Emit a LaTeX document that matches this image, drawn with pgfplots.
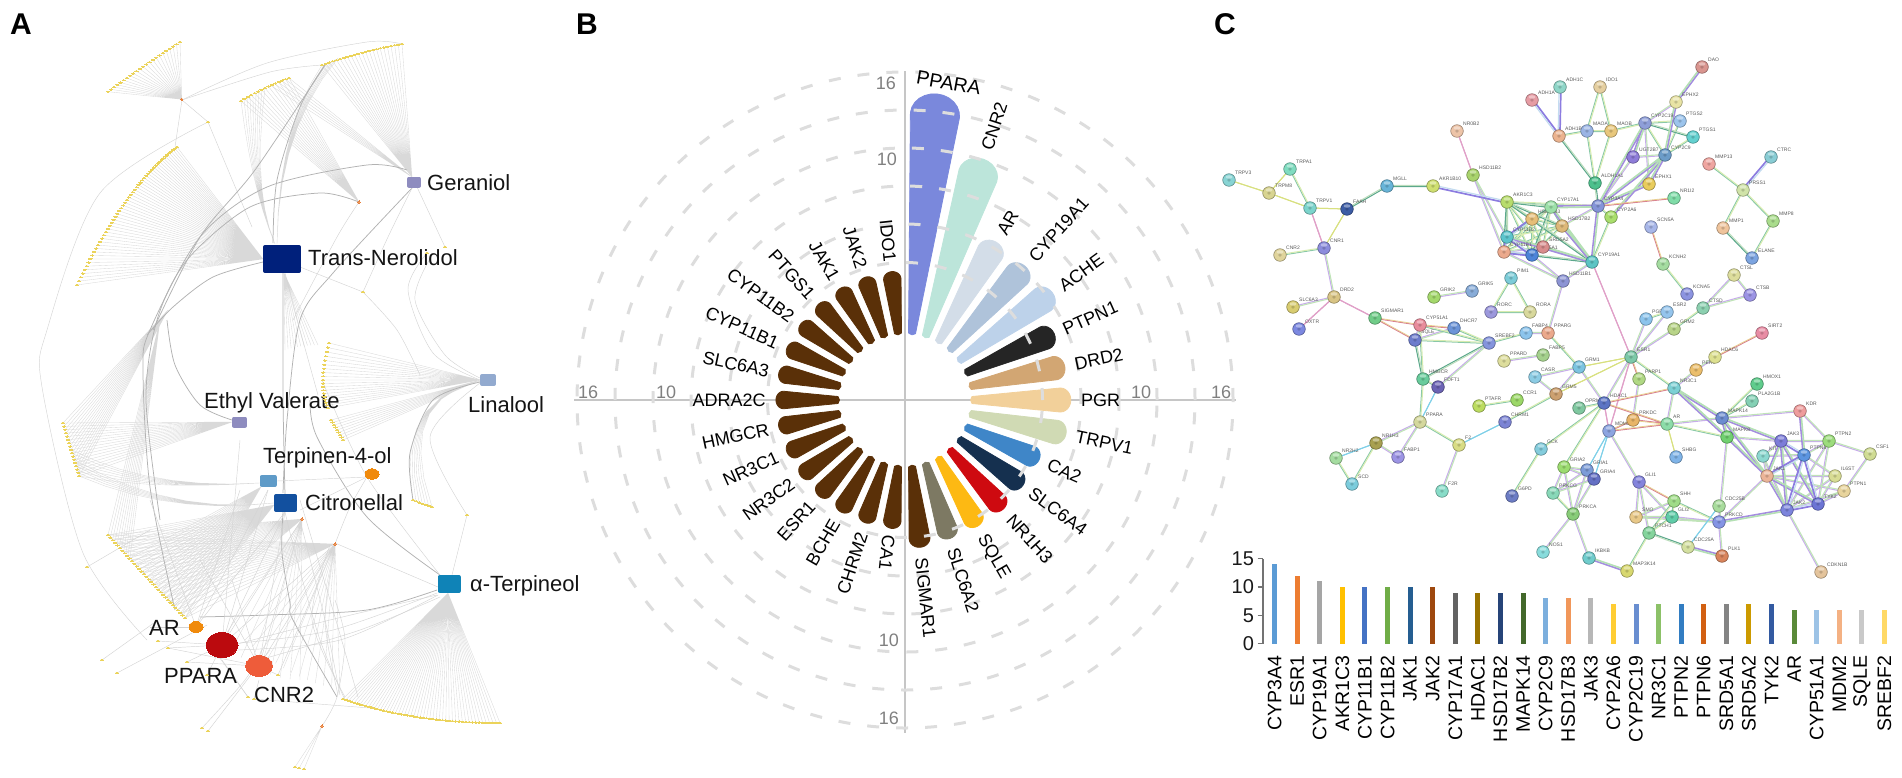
\documentclass[border=0pt]{standalone}
\usepackage{fontspec}
\setmainfont{Liberation Sans}
\usepackage{pgfplots}
\pgfplotsset{compat=1.18}
\newif\ifrecleaf \recleaftrue
\makeatletter
% ---------- panel C network: node list (name, x, y, colour)
\def\NodeList{%
\nd{DAO}{1702}{67}{D9958F}\nd{EPHX2}{1676}{102}{E8E3A4}\nd{ADH1C}{1560}{87}{8FD6C8}\nd{IDO1}{1600}{87}{E5CFA0}%
\nd{ADH1A}{1532}{100}{E69CA4}\nd{CYP2C19}{1645}{123}{8E9ED8}\nd{PTGS2}{1680}{121}{9CC4EC}\nd{PTGS1}{1693}{137}{63D0CF}%
\nd{MAOA}{1587}{131}{9AB4E4}\nd{MAOB}{1611}{131}{E8C77C}\nd{ADH1B}{1559}{136}{EBB38F}\nd{NR0B2}{1457}{131}{EDC4A8}%
\nd{UGT2B7}{1633}{157}{8E7CD8}\nd{CYP2C9}{1665}{155}{6C9CC8}\nd{CTRC}{1771}{157}{88CCD4}\nd{MMP13}{1709}{164}{EFA5A0}%
\nd{HSD11B2}{1473}{175}{A9D36C}\nd{ALDH1A1}{1595}{183}{4CC08C}\nd{EPHX1}{1649}{184}{E9CC5C}\nd{PRSS1}{1743}{190}{D0E3A8}%
\nd{AKR1B10}{1433}{186}{CFDF70}\nd{NR1I2}{1674}{198}{80DCA8}\nd{AKR1C3}{1507}{202}{B7DC6C}\nd{CYP17A1}{1551}{207}{9CE0A8}%
\nd{CYP3A4}{1598}{206}{8494D8}\nd{CYP2A6}{1611}{217}{A9DE6C}\nd{HSD17B3}{1532}{219}{E6BE78}\nd{HSD17B2}{1562}{226}{DDB878}%
\nd{SCN5A}{1651}{227}{A7B6E8}\nd{MMP8}{1773}{221}{A9DC8C}\nd{MMP1}{1723}{228}{EFC49C}\nd{CYP11B2}{1507}{237}{5CC4CC}%
\nd{CYP11B1}{1504}{252}{EBA98C}\nd{SRD5A2}{1543}{247}{D88C8C}\nd{SRD5A1}{1532}{255}{4C84D8}\nd{CYP19A1}{1592}{262}{5CC4C4}%
\nd{ELANE}{1752}{258}{7CA4E0}\nd{KCNH2}{1663}{264}{A4DCA0}\nd{KCNA5}{1687}{294}{8C94E0}\nd{HSD11B1}{1563}{281}{8C94D4}%
\nd{CTSL}{1734}{275}{DDDD9C}\nd{CTSB}{1750}{295}{9C94E4}\nd{PIM1}{1511}{278}{7CCCD8}\nd{GRIK5}{1472}{291}{88ACD8}%
\nd{GRIK2}{1434}{297}{A4D86C}\nd{RORC}{1491}{312}{9C98DC}\nd{RORA}{1530}{312}{D8D89C}\nd{ESR2}{1667}{312}{94C4EC}%
\nd{CTSD}{1703}{308}{8CD0B0}\nd{PGR}{1646}{319}{8CC4EC}\nd{GRM2}{1674}{329}{B8D488}\nd{SIRT2}{1762}{333}{E88CA4}%
\nd{DHCR7}{1454}{328}{6C94D8}\nd{FABP4}{1526}{333}{8CC4EC}\nd{PPARG}{1548}{333}{EBA98C}\nd{SREBF2}{1489}{343}{8494DC}%
\nd{ESR1}{1631}{357}{7CC8A8}\nd{FABP5}{1543}{355}{A4D08C}\nd{PPARD}{1504}{361}{DDDD9C}\nd{HDAC6}{1715}{357}{DDE090}%
\nd{GRM1}{1579}{367}{7CC4E0}\nd{PER1}{1696}{370}{EBBE6C}\nd{CASR}{1535}{377}{8CCCE4}\nd{PARP1}{1639}{379}{B0D884}%
\nd{FDFT1}{1438}{387}{6C64B4}\nd{NR3C1}{1674}{388}{7CD0D4}\nd{HMOX1}{1757}{384}{60CC8C}\nd{GRM5}{1556}{394}{CCA070}%
\nd{PLA2G1B}{1752}{401}{84D0B4}\nd{HDAC1}{1604}{403}{5C74C4}\nd{OPRM1}{1579}{408}{80C8A0}\nd{PTAFR}{1479}{406}{BCDC60}%
\nd{CCR1}{1517}{400}{9CD868}\nd{KDR}{1800}{411}{EE9C9C}\nd{MAPK14}{1722}{418}{6C8CD0}\nd{PRKDC}{1633}{420}{E8B468}%
\nd{CHRM1}{1505}{422}{7C84D4}\nd{MDM2}{1609}{431}{8CA4E0}\nd{AR}{1667}{424}{8CDCA8}\nd{MAPK8}{1727}{437}{70D070}%
\nd{PTPN2}{1829}{441}{9CDC7C}\nd{JAK3}{1781}{441}{7C7CD8}\nd{F2}{1459}{445}{D8DC84}\nd{GCK}{1541}{449}{84CCDC}%
\nd{SHBG}{1676}{457}{80B4E8}\nd{KIT}{1763}{456}{8CD8D0}\nd{PTPN6}{1804}{455}{5C94E0}\nd{CSF1}{1870}{454}{D0DC94}%
\nd{GRIA2}{1564}{467}{9CDC70}\nd{GRIA1}{1587}{470}{7C9CD8}\nd{GRIA4}{1594}{479}{6470C4}\nd{JAK1}{1767}{476}{EBB498}%
\nd{IL6ST}{1835}{476}{D8DC94}\nd{PTPN1}{1844}{491}{E8D49C}\nd{GLI1}{1639}{482}{8484DC}\nd{PRKCG}{1553}{493}{88D8B8}%
\nd{SHH}{1674}{501}{A0DC88}\nd{F2R}{1442}{491}{88DCC8}\nd{G6PD}{1512}{496}{6C7CC4}\nd{JAK2}{1787}{510}{7C84DC}%
\nd{TYK2}{1818}{504}{6C74D4}\nd{PRKCA}{1573}{514}{88CC78}\nd{CDC25B}{1719}{506}{A8DC9C}\nd{GLI2}{1672}{517}{60CCA8}%
\nd{SMO}{1636}{517}{E8C888}\nd{PRKCD}{1719}{522}{8494E4}\nd{PTCH1}{1649}{533}{84D49C}\nd{CDC25A}{1688}{547}{D4E0A0}%
\nd{NOS1}{1543}{552}{88DCDC}\nd{PLK1}{1722}{556}{D8845C}\nd{IKBKB}{1589}{558}{70CCCC}\nd{MAP3K14}{1627}{571}{D8D870}%
\nd{CDKN1B}{1821}{572}{E4C49C}\nd{TRPV3}{1229}{180}{88D4D4}\nd{TRPA1}{1290}{169}{80DCC0}\nd{TRPM8}{1269}{193}{D8D490}%
\nd{TRPV1}{1310}{208}{7CD4CC}\nd{FAAH}{1347}{209}{3C5CA4}\nd{MGLL}{1387}{186}{68B4D8}\nd{CNR1}{1324}{248}{8C8CDC}%
\nd{CNR2}{1280}{255}{E0D49C}\nd{DRD2}{1334}{297}{D8C484}\nd{SLC6A3}{1293}{307}{D8CC70}\nd{OXTR}{1299}{329}{7C88E0}%
\nd{SIGMAR1}{1375}{318}{70CC88}\nd{CYP51A1}{1420}{325}{E88C9C}\nd{SQLE}{1415}{340}{6C7CCC}\nd{HMGCR}{1423}{379}{68CC9C}%
\nd{PPARA}{1420}{422}{D4D89C}\nd{NR1H3}{1376}{443}{A8A050}\nd{NR2H2}{1336}{458}{A4DCA0}\nd{FABP1}{1398}{457}{9C94E4}%
\nd{SCD}{1352}{484}{7CCCDC}}
\gdef\HLc{}\gdef\DKc{}
\newcommand\ndstore[4]{%
 \expandafter\gdef\csname NX@#1\endcsname{#2}%
 \expandafter\gdef\csname NY@#1\endcsname{#3}%
 \definecolor{nc#1}{HTML}{#4}%
 \pgfmathsetmacro\hy{#3-3}%
 \xdef\HLc{\HLc(#2,\hy)}\xdef\DKc{\DKc(#2,#3)}}
\newcommand\nddraw[4]{%
 \addplot[only marks,mark=*,mark size=6.3pt,mark options={fill=nc#1,draw=nc#1!62!black,line width=.55pt}] coordinates {(#2,#3)};}
\newcommand\ndlabel[4]{%
 \pgfmathsetmacro\lx{#2+6}\pgfmathsetmacro\ly{#3-5}%
 \edef\tmp{\noexpand\node[nl] at (axis cs:\lx,\ly) {#1};}\tmp}
% edges: one list per edge kind
\newcommand\Ekind[2]{\expandafter\gdef\csname Off@#1\endcsname{#2}\expandafter\gdef\csname EA@#1\endcsname{}\expandafter\gdef\csname EB@#1\endcsname{}}
\Ekind{p}{.8}\Ekind{g}{.5}\Ekind{h}{.6}\Ekind{y}{0}\Ekind{m}{0}\Ekind{r}{.4}\Ekind{c}{0}\Ekind{b}{.9}\Ekind{l}{.55}
\newcommand\E[3]{%
 \edef\xa{\csname NX@#1\endcsname}\edef\ya{\csname NY@#1\endcsname}%
 \edef\xb{\csname NX@#2\endcsname}\edef\yb{\csname NY@#2\endcsname}%
 \edef\off{\csname Off@#3\endcsname}%
 \pgfmathsetmacro\dxv{\xb-\xa}\pgfmathsetmacro\dyv{\yb-\ya}%
 \pgfmathsetmacro\Lv{veclen(\dxv,\dyv)}%
 \pgfmathsetmacro\ox{-1*(\dyv)/\Lv*\off}\pgfmathsetmacro\oy{(\dxv)/\Lv*\off}%
 \pgfmathsetmacro\pax{\xa+\ox}\pgfmathsetmacro\pay{\ya+\oy}\pgfmathsetmacro\pbx{\xb+\ox}\pgfmathsetmacro\pby{\yb+\oy}%
 \pgfmathsetmacro\qax{\xa-\ox}\pgfmathsetmacro\qay{\ya-\oy}\pgfmathsetmacro\qbx{\xb-\ox}\pgfmathsetmacro\qby{\yb-\oy}%
 \expandafter\xdef\csname EA@#3\endcsname{\csname EA@#3\endcsname(\pax,\pay)(\pbx,\pby)(nan,nan)}%
 \expandafter\xdef\csname EB@#3\endcsname{\csname EB@#3\endcsname(\qax,\qay)(\qbx,\qby)(nan,nan)}}
\newcommand\flushE[5]{%
 \edef\tmp{\noexpand\addplot[draw=#2,line width=#3pt] coordinates {\csname EA@#1\endcsname};}\tmp
 \edef\tmp{\noexpand\addplot[draw=#4,line width=#5pt] coordinates {\csname EB@#1\endcsname};}\tmp}
\makeatother
% ---------- panel A helpers
\gdef\allleaves{}
\newcommand\fan[9]{%
 \gdef\fcoords{}%
 \foreach \ii in {0,...,#9}{%
  \pgfmathsetmacro\tv{\ii/#9}%
  \pgfmathsetmacro\xx{(1-\tv)*(1-\tv)*#3+2*(1-\tv)*\tv*#5+\tv*\tv*#7}%
  \pgfmathsetmacro\yy{(1-\tv)*(1-\tv)*#4+2*(1-\tv)*\tv*#6+\tv*\tv*#8}%
  \xdef\fcoords{\fcoords(#1,#2)(\xx,\yy)(nan,nan)}%
  \ifrecleaf\xdef\allleaves{\allleaves(\xx,\yy)}\fi}%
 \edef\tmp{\noexpand\addplot[fanl] coordinates {\fcoords};}\tmp}
% curved fan: args {hx}{hy}{x1}{y1}{cx}{cy}{x2}{y2}{n}{bendx}{bendy}, one bezier per leaf
\newcommand\cfan[9]{\def\hxx{#1}\def\hyy{#2}\def\aax{#3}\def\aay{#4}\def\ccx{#5}\def\ccy{#6}\def\bbx{#7}\def\bby{#8}\def\nnn{#9}\cfand}
\newcommand\cfand[2]{%
 \gdef\fcoords{}%
 \foreach \ii in {0,...,\nnn}{%
  \pgfmathsetmacro\tv{\ii/\nnn}%
  \pgfmathsetmacro\xx{(1-\tv)*(1-\tv)*\aax+2*(1-\tv)*\tv*\ccx+\tv*\tv*\bbx}%
  \pgfmathsetmacro\yy{(1-\tv)*(1-\tv)*\aay+2*(1-\tv)*\tv*\ccy+\tv*\tv*\bby}%
  \ifrecleaf\xdef\allleaves{\allleaves(\xx,\yy)}\fi
  \foreach \jj in {0,...,7}{%
   \pgfmathsetmacro\sv{\jj/7}%
   \pgfmathsetmacro\px{(1-\sv)*(1-\sv)*\xx+2*(1-\sv)*\sv*#1+\sv*\sv*\hxx}%
   \pgfmathsetmacro\py{(1-\sv)*(1-\sv)*\yy+2*(1-\sv)*\sv*#2+\sv*\sv*\hyy}%
   \xdef\fcoords{\fcoords(\px,\py)}}%
  \xdef\fcoords{\fcoords(nan,nan)}}%
 \edef\tmp{\noexpand\addplot[fanl] coordinates {\fcoords};}\tmp}
\newcommand\C[1]{\addplot[cthin,smooth] coordinates {#1};}
\newcommand\Cb[1]{\addplot[cthick,smooth] coordinates {#1};}
\newcommand\hubrect[5]{%
 \pgfmathsetmacro\xl{#1-#3/2+2}\pgfmathsetmacro\xr{#1+#3/2-2}\pgfmathsetmacro\yt{#2-#4/2+2}\pgfmathsetmacro\yb{#2+#4/2-2}%
 \edef\tmp{\noexpand\addplot[fill=#5,draw=#5,line width=4pt,line join=round] coordinates {(\xl,\yt)(\xr,\yt)(\xr,\yb)(\xl,\yb)} -- cycle;}\tmp}
\newcommand\hubell[5]{\addplot[only marks,mark=*,mark size=1pt,mark options={xscale=#3,yscale=#4,fill=#5,draw=#5,line width=0pt}] coordinates {(#1,#2)};}
\newcommand\alabel[3]{\node[alab] at (axis cs:#1,#2) {#3};}
% ---------- panel B: index, value, colour, label
\def\PetalList{%
\pp{0}{14.4}{7A88DC}{}\pp{1}{10.1}{BCE5DA}{CNR2}\pp{2}{4.5}{D3DDE8}{AR}\pp{3}{4.3}{AFC3DA}{CYP19A1}\pp{4}{4.5}{BDD2EA}{ACHE}%
\pp{5}{3.0}{252525}{PTPN1}\pp{6}{3.0}{D2A673}{DRD2}\pp{7}{3.2}{F2D09A}{PGR}\pp{8}{3.1}{D0DAB4}{TRPV1}\pp{9}{1.7}{3F86C8}{CA2}%
\pp{10}{1.6}{15304F}{SLC6A4}\pp{11}{1.7}{CE0A10}{NR1H3}\pp{12}{1.6}{FDB913}{SQLE}\pp{13}{1.6}{7D7963}{SLC6A2}\pp{14}{1.8}{5A3008}{SIGMAR1}%
\pp{15}{0.3}{5A3008}{}\pp{16}{0.3}{5A3008}{CHRM2}\pp{17}{0.3}{5A3008}{BCHE}\pp{18}{0.3}{5A3008}{ESR1}\pp{19}{0.3}{5A3008}{NR3C2}%
\pp{20}{0.3}{5A3008}{NR3C1}\pp{21}{0.3}{5A3008}{HMGCR}\pp{22}{0.3}{5A3008}{ADRA2C}\pp{23}{0.3}{5A3008}{SLC6A3}\pp{24}{0.3}{5A3008}{CYP11B1}%
\pp{25}{0.3}{5A3008}{CYP11B2}\pp{26}{0.3}{5A3008}{PTGS1}\pp{27}{0.3}{5A3008}{JAK1}\pp{28}{0.3}{5A3008}{JAK2}\pp{29}{0.3}{5A3008}{IDO1}}
\newcommand\petal[4]{%
 \definecolor{pc#1}{HTML}{#3}%
 \pgfmathsetmacro\aa{6+12*#1}%
 \pgfmathsetmacro\RR{125.3+12.67*#2}%
 \pgfmathsetmacro\hr{3.5+(\RR-67)*.0965}%
 \pgfmathsetmacro\ch{.8*\hr}%
 \pgfmathsetmacro\uo{\RR-\ch}%
 \pgfmathsetmacro\ho{3.5+(\uo-67)*.0965}%
 \pgfmathsetmacro\sa{sin(\aa)}\pgfmathsetmacro\ca{cos(\aa)}%
 \gdef\fcoords{}%
 \def\addp##1##2{\pgfmathsetmacro\px{905+(##1)*\sa+(##2)*\ca}\pgfmathsetmacro\py{400-(##1)*\ca+(##2)*\sa}\xdef\fcoords{\fcoords(\px,\py)}}%
 \addp{65.5}{0}\addp{67}{3.5}\addp{\uo}{\ho}%
 \foreach \ph in {15,30,...,165}{%
  \pgfmathsetmacro\uu{\uo+\ch*sin(\ph)}\pgfmathsetmacro\vv{\ho*cos(\ph)}%
  \addp{\uu}{\vv}}%
 \addp{\uo}{-\ho}\addp{67}{-3.5}%
 \edef\tmp{\noexpand\addplot[fill=pc#1,draw=pc#1,line width=.8pt,line join=round] coordinates {\fcoords} -- cycle;}\tmp}
\newcommand\petallab[4]{%
 \pgfmathsetmacro\aa{6+12*#1}%
 \pgfmathsetmacro\RR{125.3+12.67*#2}%
 \pgfmathsetmacro\sa{sin(\aa)}\pgfmathsetmacro\ca{cos(\aa)}%
 \pgfmathsetmacro\rl{\RR+10}%
 \pgfmathsetmacro\lx{905+\rl*\sa}\pgfmathsetmacro\ly{400-\rl*\ca}%
 \pgfmathtruncatemacro\isR{\aa<180 ? 1 : 0}%
 \ifnum\isR=1
  \pgfmathsetmacro\rt{90-\aa}%
  \edef\tmp{\noexpand\node[blab,anchor=west,rotate=\rt] at (axis cs:\lx,\ly) {#4};}\tmp
 \else
  \pgfmathsetmacro\rt{270-\aa}%
  \edef\tmp{\noexpand\node[blab,anchor=east,rotate=\rt] at (axis cs:\lx,\ly) {#4};}\tmp
 \fi}
\begin{document}
\begin{tikzpicture}
\tikzset{
 nl/.style={font=\fontsize{5}{6}\selectfont,text=black!65,inner sep=0pt,anchor=south west},
 alab/.style={font=\fontsize{22}{25}\selectfont,text=black!92,inner sep=0pt,anchor=west,text height=15pt,text depth=0pt},
 blab/.style={font=\fontsize{18}{21}\selectfont,text=black,inner sep=0pt,text height=13pt,text depth=0pt},
 tlab/.style={font=\fontsize{18}{21}\selectfont,text=black!50,inner sep=0pt},
 plab/.style={font=\fontsize{30}{32}\selectfont\bfseries,text=black,inner sep=0pt},
}
\pgfplotsset{
 fanl/.style={draw=black!15,line width=.35pt},
 cthin/.style={draw=black!17,line width=.45pt},
 cthick/.style={draw=black!30,line width=.75pt},
}
\definecolor{leafc}{HTML}{EBD35A}
\definecolor{hubo}{HTML}{E8803A}
\definecolor{ringc}{HTML}{DDDDDD}
\definecolor{axc}{HTML}{C6C6C6}
\definecolor{navyA}{HTML}{00207B}\definecolor{viA}{HTML}{8E8CBF}\definecolor{liA}{HTML}{92AACF}
\definecolor{blA}{HTML}{5F9BC8}\definecolor{ciA}{HTML}{12509F}\definecolor{teA}{HTML}{0F83B7}
\definecolor{orA}{HTML}{F08A0C}\definecolor{reA}{HTML}{BB0A0E}\definecolor{coA}{HTML}{EE5C3A}
\definecolor{ep1}{HTML}{A48CE0}\definecolor{ep2}{HTML}{B4E0B4}
\definecolor{eg1}{HTML}{88C8A8}\definecolor{eg2}{HTML}{D8ECB0}
\definecolor{eh1}{HTML}{5CA88C}\definecolor{eh2}{HTML}{BCDDBC}
\definecolor{ey1}{HTML}{D8E080}
\definecolor{em1}{HTML}{E0A0C8}
\definecolor{er1}{HTML}{D88090}\definecolor{er2}{HTML}{E8D090}
\definecolor{ec1}{HTML}{80D0E8}
\definecolor{eb1}{HTML}{8C7CE0}\definecolor{eb2}{HTML}{C4DCF0}
\definecolor{el1}{HTML}{C8ACEC}\definecolor{el2}{HTML}{C0E4B8}
\useasboundingbox (0,0) rectangle (1902pt,777pt);
\let\nd\ndstore \NodeList
% edges of panel C
\E{TRPV3}{TRPM8}{y}\E{TRPA1}{TRPM8}{y}\E{TRPA1}{TRPV1}{g}\E{TRPM8}{TRPV1}{y}\E{TRPV1}{FAAH}{y}\E{TRPV1}{CNR1}{m}\E{FAAH}{CNR1}{y}\E{FAAH}{MGLL}{h}\E{MGLL}{AKR1B10}{h}\E{AKR1B10}{AKR1C3}{b}
\E{NR0B2}{HSD11B2}{m}\E{HSD11B2}{CYP11B1}{l}\E{HSD11B2}{CYP11B2}{l}\E{CNR2}{CNR1}{g}\E{CNR1}{DRD2}{l}\E{DRD2}{SLC6A3}{l}\E{DRD2}{OXTR}{m}\E{DRD2}{SIGMAR1}{m}\E{SIGMAR1}{CYP51A1}{r}\E{SIGMAR1}{SQLE}{r}
\E{CYP51A1}{DHCR7}{r}\E{CYP51A1}{SQLE}{l}\E{DHCR7}{SQLE}{l}\E{SQLE}{SREBF2}{g}\E{CYP51A1}{SREBF2}{g}\E{DHCR7}{SREBF2}{g}\E{SQLE}{HMGCR}{h}\E{CYP51A1}{HMGCR}{g}\E{SREBF2}{HMGCR}{h}\E{SREBF2}{FDFT1}{l}\E{HMGCR}{FDFT1}{g}\E{HMGCR}{PPARA}{g}\E{FDFT1}{PPARA}{c}\E{SREBF2}{FABP4}{g}\E{FABP4}{PPARG}{l}\E{PPARG}{HSD11B1}{l}\E{PPARG}{GRM1}{g}\E{PPARD}{FABP5}{l}
\E{PPARA}{NR1H3}{l}\E{PPARA}{FABP1}{l}\E{PPARA}{F2}{g}\E{NR1H3}{NR2H2}{c}\E{NR1H3}{FABP1}{l}\E{NR1H3}{SCD}{g}\E{NR2H2}{SCD}{g}\E{F2}{CHRM1}{c}\E{F2}{F2R}{l}\E{CHRM1}{GRM5}{g}\E{PTAFR}{CCR1}{g}\E{CASR}{GRM1}{l}\E{CASR}{GRM5}{l}\E{GRM1}{GRM5}{l}\E{GRM1}{ESR1}{y}\E{GRM5}{ESR1}{y}\E{GRM1}{HDAC1}{l}
\E{GRIK2}{GRIK5}{l}\E{RORC}{RORA}{g}\E{RORC}{PIM1}{g}\E{RORA}{PIM1}{g}\E{HSD11B1}{CYP19A1}{l}\E{HSD11B1}{SRD5A1}{l}\E{HSD11B1}{CYP11B1}{l}
\E{AKR1C3}{CYP17A1}{h}\E{AKR1C3}{HSD17B3}{g}\E{AKR1C3}{HSD17B2}{h}\E{AKR1C3}{CYP11B2}{h}\E{AKR1C3}{CYP11B1}{h}\E{AKR1C3}{SRD5A2}{g}\E{AKR1C3}{SRD5A1}{g}\E{AKR1C3}{CYP19A1}{h}\E{AKR1C3}{CYP3A4}{g}
\E{CYP17A1}{HSD17B3}{g}\E{CYP17A1}{HSD17B2}{g}\E{CYP17A1}{CYP11B2}{h}\E{CYP17A1}{CYP11B1}{g}\E{CYP17A1}{SRD5A1}{h}\E{CYP17A1}{SRD5A2}{g}\E{CYP17A1}{CYP19A1}{p}
\E{HSD17B3}{HSD17B2}{g}\E{HSD17B3}{CYP11B2}{b}\E{HSD17B3}{CYP11B1}{g}\E{HSD17B3}{SRD5A1}{g}\E{HSD17B3}{SRD5A2}{g}\E{HSD17B3}{CYP19A1}{h}\E{HSD17B2}{CYP11B2}{g}\E{HSD17B2}{CYP11B1}{g}\E{HSD17B2}{SRD5A1}{g}\E{HSD17B2}{CYP19A1}{p}
\E{CYP11B2}{CYP11B1}{b}\E{CYP11B2}{SRD5A2}{l}\E{CYP11B2}{SRD5A1}{b}\E{CYP11B1}{SRD5A1}{b}\E{CYP11B1}{SRD5A2}{l}\E{SRD5A2}{SRD5A1}{b}\E{SRD5A1}{CYP19A1}{h}\E{SRD5A2}{CYP19A1}{p}\E{CYP11B2}{CYP19A1}{p}\E{CYP11B1}{CYP19A1}{h}
\E{CYP19A1}{ESR1}{m}\E{CYP3A4}{CYP19A1}{p}\E{CYP3A4}{CYP17A1}{p}\E{CYP3A4}{HSD17B2}{l}\E{CYP3A4}{ALDH1A1}{h}\E{CYP3A4}{CYP2A6}{g}\E{CYP3A4}{CYP2C9}{p}\E{CYP3A4}{CYP2C19}{p}\E{CYP3A4}{EPHX1}{p}\E{CYP3A4}{NR1I2}{r}\E{CYP3A4}{UGT2B7}{l}\E{CYP2A6}{CYP19A1}{g}\E{CYP2A6}{CYP2C9}{p}\E{EPHX1}{CYP2C9}{p}\E{CYP2C19}{CYP2C9}{g}\E{CYP2C19}{UGT2B7}{p}\E{UGT2B7}{CYP2C9}{l}\E{CYP2C19}{EPHX1}{l}\E{CYP2C19}{MAOB}{g}\E{CYP2C19}{PTGS2}{g}\E{CYP2C19}{PTGS1}{h}\E{CYP2C19}{EPHX2}{l}\E{CYP2C9}{PTGS2}{g}\E{CYP2C9}{PTGS1}{g}\E{CYP2C9}{EPHX2}{p}\E{EPHX2}{DAO}{p}
\E{MAOA}{MAOB}{g}\E{MAOA}{ADH1B}{g}\E{ADH1B}{ADH1A}{b}\E{ADH1B}{ADH1C}{b}\E{IDO1}{MAOA}{g}\E{IDO1}{MAOB}{g}\E{ADH1B}{ALDH1A1}{h}\E{MAOA}{ALDH1A1}{g}\E{MAOB}{ALDH1A1}{g}
\E{SCN5A}{KCNH2}{r}\E{KCNH2}{KCNA5}{g}\E{CTRC}{PRSS1}{b}\E{MMP13}{PRSS1}{g}\E{PRSS1}{MMP1}{g}\E{PRSS1}{MMP8}{g}\E{MMP1}{ELANE}{h}\E{MMP8}{ELANE}{g}\E{CTSL}{CTSB}{l}\E{CTSL}{CTSD}{l}\E{CTSB}{CTSD}{l}
\E{ESR1}{GRM2}{l}\E{GRM2}{CTSD}{g}\E{ESR1}{PGR}{l}\E{ESR1}{ESR2}{l}\E{PGR}{ESR2}{g}\E{ESR1}{PARP1}{r}\E{ESR1}{NR3C1}{g}\E{ESR1}{HDAC1}{l}\E{ESR1}{MDM2}{m}\E{PARP1}{PRKDC}{l}\E{HDAC1}{MDM2}{m}\E{HDAC1}{NR3C1}{r}\E{HDAC1}{AR}{r}\E{NR3C1}{AR}{l}\E{NR3C1}{PER1}{l}\E{PER1}{HDAC6}{l}\E{HDAC6}{SIRT2}{r}\E{NR3C1}{MAPK14}{p}\E{NR3C1}{MAPK8}{p}\E{AR}{MAPK14}{l}\E{AR}{MAPK8}{g}\E{AR}{SHBG}{y}\E{AR}{PRKDC}{r}\E{MDM2}{PRKDC}{r}\E{MDM2}{AR}{r}
\E{MAPK14}{HMOX1}{g}\E{MAPK14}{PLA2G1B}{g}\E{MAPK14}{KDR}{l}\E{MAPK14}{MAPK8}{p}\E{MAPK14}{JAK3}{p}\E{MAPK14}{JAK1}{p}\E{MAPK8}{JAK3}{l}\E{MAPK8}{JAK1}{p}\E{MAPK8}{PRKCD}{l}
\E{KDR}{PTPN2}{l}\E{KDR}{PTPN6}{p}\E{JAK3}{PTPN2}{l}\E{JAK3}{PTPN6}{b}\E{JAK3}{JAK1}{p}\E{JAK3}{JAK2}{p}\E{JAK3}{TYK2}{p}\E{JAK3}{KIT}{l}\E{PTPN2}{PTPN6}{l}\E{PTPN2}{CSF1}{l}\E{PTPN2}{JAK1}{l}\E{PTPN2}{JAK2}{l}\E{PTPN2}{TYK2}{l}\E{PTPN6}{JAK1}{b}\E{PTPN6}{JAK2}{b}\E{PTPN6}{TYK2}{b}\E{PTPN6}{IL6ST}{l}\E{KIT}{JAK2}{l}\E{KIT}{JAK1}{l}\E{KIT}{PTPN6}{l}\E{JAK1}{JAK2}{p}\E{JAK1}{TYK2}{p}\E{JAK1}{IL6ST}{l}\E{JAK1}{PTPN1}{l}\E{JAK2}{TYK2}{b}\E{JAK2}{IL6ST}{l}\E{JAK2}{PTPN1}{l}\E{TYK2}{IL6ST}{l}\E{TYK2}{PTPN1}{l}\E{CSF1}{PTPN1}{l}\E{JAK2}{CDKN1B}{l}\E{JAK2}{PRKCD}{p}\E{JAK1}{PRKCD}{l}
\E{CDC25B}{CDC25A}{c}\E{PRKCD}{PLK1}{l}\E{PLK1}{CDC25A}{p}\E{CDC25A}{PTCH1}{h}\E{PTCH1}{MAP3K14}{g}\E{PRKCD}{GLI2}{l}\E{PRKCD}{SMO}{l}\E{PRKCD}{SHH}{g}\E{GLI1}{SHH}{r}\E{GLI1}{SMO}{l}\E{GLI1}{GLI2}{l}\E{GLI1}{PTCH1}{l}\E{SHH}{GLI2}{g}\E{SHH}{PTCH1}{g}\E{SMO}{GLI2}{l}\E{GLI2}{PTCH1}{g}\E{SMO}{SHH}{l}
\E{MDM2}{GLI1}{l}\E{HDAC1}{GCK}{g}\E{GCK}{G6PD}{g}\E{HDAC1}{GRIA2}{g}\E{HDAC1}{OPRM1}{g}\E{MDM2}{GRIA1}{c}\E{MDM2}{GRIA4}{c}
\E{GRIA2}{GRIA1}{l}\E{GRIA2}{GRIA4}{l}\E{GRIA1}{GRIA4}{l}\E{GRIA2}{PRKCG}{l}\E{GRIA1}{PRKCG}{l}\E{GRIA4}{PRKCG}{l}\E{GRIA2}{PRKCA}{l}\E{GRIA1}{PRKCA}{l}\E{GRIA4}{PRKCA}{l}\E{PRKCG}{PRKCA}{g}\E{PRKCA}{NOS1}{l}\E{PRKCA}{IKBKB}{l}\E{IKBKB}{MAP3K14}{p}
\begin{axis}[at={(0,0)},anchor=south west,width=1902pt,height=777pt,scale only axis,xmin=0,xmax=1902,ymin=0,ymax=777,y dir=reverse,hide axis,clip=false,unbounded coords=jump]
% ========== Panel A
\fan{181.7}{99.3}{108}{91.7}{142}{66.5}{180}{42}{22}
\fan{263}{259}{77}{285}{127}{184}{177}{147}{52}
\fan{359}{202}{241}{101}{265}{86.5}{289}{78}{14}
\fan{412}{177}{322}{65}{362}{51}{402}{44}{22}
\fan{480}{380}{329}{343}{317.5}{384.5}{328}{408}{18}
\fan{480}{380}{331}{420}{337}{430}{343}{440}{8}
\fan{232}{422}{63}{423}{71}{450}{79}{476}{16}
\fan{274}{505}{108}{535}{146}{577}{185}{618}{32}
\fan{448}{593}{343}{699}{412.5}{723}{500}{723}{50}
\cfan{480}{381}{413}{500}{422}{504}{432}{507}{6}{395}{400}
\fan{322}{726}{295}{767}{299}{768}{304}{769}{2}
\recleaffalse
\fan{412}{177}{270}{85}{280}{81}{289}{78}{5}
\cfan{275}{244}{241}{101}{253}{93}{265}{88}{8}{252}{190}
\cfan{277}{244}{322}{65}{330}{62}{338}{58}{6}{278}{130}
\fan{168}{310}{63}{423}{71}{450}{79}{476}{16}
\cfan{260}{483}{79}{476}{76}{462}{72}{450}{6}{150}{490}
\cfan{274}{503}{79}{476}{77}{468}{75}{460}{5}{170}{515}
\fan{335}{544}{108}{535}{146}{577}{185}{618}{20}
\fan{302}{519}{108}{535}{146}{577}{185}{618}{20}
\fan{261}{487}{130}{558}{157}{588}{185}{618}{16}
\fan{160}{320}{108}{535}{120}{545}{130}{558}{10}
\fan{284}{273}{285}{350}{300}{345}{318}{345}{10}
\fan{335}{544}{245}{640}{290}{680}{340}{690}{12}
\fan{302}{519}{222}{640}{260}{680}{300}{680}{8}
\recleaftrue
\C{(208,122)(100,193)(47,330)(42,387)(83,553)(147,640)}
\C{(182,100)(208,122)}\C{(208,122)(252,227)}\C{(182,100)(175,147)}
\C{(182,100)(267,63)(367,42)(402,44)}\C{(182,100)(270,72)(322,65)}
\Cb{(407,170)(367,165)(267,187)(200,237)(150,330)(143,370)(150,487)(175,610)}
\Cb{(359,202)(320,193)(250,207)(187,260)(157,320)(146,400)(160,520)}
\C{(359,202)(337,237)(293,320)}
\Cb{(412,188)(333,273)(300,320)(287,420)(283,493)}
\C{(363,292)(300,267)}\C{(363,292)(388,237)(412,188)}\C{(417,187)(445,247)}
\C{(363,292)(397,330)(420,375)}
\Cb{(273,243)(277,180)(300,107)(325,65)}
\Cb{(325,65)(255,170)(200,237)(153,330)}
\Cb{(263,262)(213,277)(173,307)(147,335)}
\Cb{(167,320)(175,365)(200,405)(232,420)}
\Cb{(283,273)(283,320)(283,400)(285,495)}
\C{(285,273)(300,330)(318,395)}
\Cb{(283,512)(282,553)(290,603)(293,620)(337,697)}
\C{(285,512)(297,560)(320,640)(345,700)}\C{(300,500)(330,600)(358,697)}
\Cb{(440,575)(367,517)(317,437)(310,400)}
\Cb{(437,590)(367,610)(267,615)(200,617)}
\C{(437,593)(333,630)(240,643)}\C{(438,595)(340,640)(237,650)}
\C{(335,543)(438,587)}
\Cb{(480,382)(433,400)(410,453)(413,500)}
\C{(480,383)(430,437)(467,515)}\C{(467,515)(452,575)}
\C{(427,253)(408,290)(433,353)(480,380)}\C{(431,257)(415,300)(445,355)(480,378)}
\C{(367,477)(277,481)}\C{(367,477)(350,507)(335,544)}\C{(367,477)(300,510)}\C{(322,380)(367,477)(440,575)}
\C{(102,660)(158,620)}\C{(117,673)(207,625)}\C{(202,728)(245,680)(262,650)}\C{(208,731)(247,680)(270,650)}
\C{(322,726)(337,697)(345,640)(335,600)}\C{(87,567)(150,530)}
\C{(222,645)(302,519)}\C{(222,645)(335,544)}\C{(222,645)(285,512)}\C{(222,645)(268,490)}\C{(222,645)(240,440)}
\C{(259,666)(302,519)}\C{(259,666)(335,544)}\C{(259,666)(285,512)}\C{(259,666)(232,580)}\C{(259,666)(200,560)}
\C{(196,627)(285,512)}\C{(196,627)(268,490)}\C{(196,627)(240,490)}\C{(196,627)(150,500)}\C{(150,627)(196,627)}
\C{(158,641)(222,645)}\C{(168,648)(222,645)}\C{(187,662)(222,645)}\C{(168,648)(259,666)}\C{(187,662)(259,666)}
\C{(207,675)(222,645)}\C{(248,697)(222,660)}\C{(254,699)(259,680)}\C{(278,675)(259,666)}\C{(278,675)(335,544)}\C{(248,697)(207,640)}
\C{(222,648)(330,620)(437,595)}\C{(259,660)(360,630)(440,597)}\C{(254,699)(370,708)}
\C{(300,520)(325,620)(340,695)}\C{(335,545)(325,620)(338,695)}\C{(330,545)(312,620)(345,697)}
\edef\tmp{\noexpand\addplot[only marks,mark=*,mark size=1pt,mark options={xscale=1.6,yscale=.65,fill=leafc,draw=leafc,line width=0pt}] coordinates {\allleaves};}\tmp
\addplot[only marks,mark=*,mark size=1pt,mark options={xscale=1.6,yscale=.75,fill=leafc,draw=leafc,line width=0pt}] coordinates {(102,660)(117,673)(158,641)(168,648)(187,662)(207,675)(248,697)(254,699)(278,675)(202,728)(208,731)(87,567)(208,122)(363,292)(427,253)(445,247)(467,515)};
\addplot[only marks,mark=*,mark size=1.2pt,mark options={fill=hubo,draw=hubo,line width=0pt}] coordinates {(181.7,99.3)(359,202)(302,519)(335,544)(322,726)};
\hubrect{282}{259}{38}{28}{navyA}
\hubrect{414}{182}{14}{11}{viA}
\hubrect{488}{380}{16}{12}{liA}
\hubrect{239.5}{422}{15}{11}{viA}
\hubrect{268}{481}{17}{12}{blA}
\hubrect{285.5}{503}{23}{18}{ciA}
\hubrect{449}{584}{23}{18}{teA}
\hubell{372}{474}{7}{5.2}{orA}
\hubell{196}{627}{7}{5.5}{orA}
\hubell{222}{645}{16}{12.5}{reA}
\hubell{259}{666}{13.5}{10.5}{coA}
\alabel{308}{258}{Trans-Nerolidol}
\alabel{427}{183}{Geraniol}
\alabel{468}{405}{Linalool}
\alabel{204}{401}{Ethyl Valerate}
\alabel{263}{456}{Terpinen-4-ol}
\alabel{305}{503}{Citronellal}
\alabel{470}{584}{α-Terpineol}
\alabel{149}{628}{AR}
\alabel{164}{676}{PPARA}
\alabel{254}{695}{CNR2}
\node[plab] at (axis cs:21,24) {A};
\node[plab] at (axis cs:587,24) {B};
\node[plab] at (axis cs:1225,24) {C};
% ========== Panel B
\addplot[draw=axc,line width=1.1pt] coordinates {(905,71)(905,733)};
\addplot[draw=axc,line width=1.1pt] coordinates {(574,400)(1236,400)};
\let\pp\petal \PetalList
\foreach \rr in {137.5,176,214,252,290,328}{%
 \edef\tmp{\noexpand\draw[ringc,line width=3pt,dash pattern=on 12pt off 17pt] (axis cs:905,400) circle [radius=\rr pt];}\tmp}
\let\pp\petallab \PetalList
\node[blab,font=\fontsize{19.5}{22}\selectfont,rotate=-10] at (axis cs:948.6,83) {PPARA};
\node[blab,rotate=-96,anchor=west] at (axis cs:889,535) {CA1};
\node[tlab,anchor=east] at (axis cs:896,83) {16};
\node[tlab,anchor=east] at (axis cs:897,159) {10};
\node[tlab,anchor=west] at (axis cs:578,392) {16};
\node[tlab,anchor=west] at (axis cs:656,392) {10};
\node[tlab,anchor=west] at (axis cs:1131,392) {10};
\node[tlab,anchor=west] at (axis cs:1211,392) {16};
\node[tlab,anchor=east] at (axis cs:899,640) {10};
\node[tlab,anchor=east] at (axis cs:899,718) {16};
% ========== Panel C network
\flushE{l}{el1}{1.1}{el2}{1.1}
\flushE{g}{eg1}{1}{eg2}{1}
\flushE{h}{eh1}{1.1}{eh2}{1}
\flushE{p}{ep1}{1.6}{ep2}{1.6}
\flushE{b}{eb1}{1.7}{eb2}{1.2}
\flushE{y}{ey1}{1}{ey1}{1}
\flushE{m}{em1}{1.1}{em1}{1.1}
\flushE{r}{er1}{1}{er2}{.8}
\flushE{c}{ec1}{1}{ec1}{1}
\let\nd\nddraw \NodeList
\edef\tmp{\noexpand\addplot[only marks,mark=*,mark size=1.8pt,mark options={fill=black,draw=black,draw opacity=0,fill opacity=.16,line width=0pt}] coordinates {\DKc};}\tmp
\edef\tmp{\noexpand\addplot[only marks,mark=*,mark size=1pt,mark options={xscale=3.4,yscale=1.7,fill=white,draw=white,draw opacity=0,fill opacity=.38,line width=0pt}] coordinates {\HLc};}\tmp
\let\nd\ndlabel \NodeList
\end{axis}
% ========== Panel C bar chart
\definecolor{b0}{HTML}{5B9BD5}\definecolor{b1}{HTML}{ED7D31}\definecolor{b2}{HTML}{A5A5A5}\definecolor{b3}{HTML}{FFC000}\definecolor{b4}{HTML}{4472C4}\definecolor{b5}{HTML}{70AD47}\definecolor{b6}{HTML}{255E91}\definecolor{b7}{HTML}{9E480E}\definecolor{b8}{HTML}{636363}\definecolor{b9}{HTML}{997300}\definecolor{b10}{HTML}{264478}\definecolor{b11}{HTML}{43682B}\definecolor{b12}{HTML}{7CAFDD}\definecolor{b13}{HTML}{F1975A}\definecolor{b14}{HTML}{B7B7B7}\definecolor{b15}{HTML}{FFCD33}\definecolor{b16}{HTML}{698ED0}\definecolor{b17}{HTML}{8CC168}\definecolor{b18}{HTML}{327DC2}\definecolor{b19}{HTML}{D26012}\definecolor{b20}{HTML}{848484}\definecolor{b21}{HTML}{CC9A00}\definecolor{b22}{HTML}{335AA1}\definecolor{b23}{HTML}{5A8A39}\definecolor{b24}{HTML}{9DC3E6}\definecolor{b25}{HTML}{F4B183}\definecolor{b26}{HTML}{C9C9C9}\definecolor{b27}{HTML}{FFD966}
\begin{axis}[at={(1263pt,133.4pt)},anchor=south west,width=635pt,height=85pt,scale only axis,
 xmin=-0.513,xmax=27.6,ymin=0,ymax=15,clip=false,
 axis y line=left,axis x line=bottom,axis line style={-},
 x axis line style={draw=none},
 y axis line style={draw=black!55,line width=1.2pt},
 ytick={0,5,10,15},
 ytick style={draw=black!55,line width=1.2pt},tick align=outside,major tick length=5.5pt,
 yticklabel style={font=\fontsize{20}{22}\selectfont,text=black!90},
 /pgf/number format/assume math mode=true,
 xtick={0,...,27},
 x tick style={draw=none},
 xticklabels={CYP3A4,ESR1,CYP19A1,AKR1C3,CYP11B1,CYP11B2,JAK1,JAK2,CYP17A1,HDAC1,HSD17B2,MAPK14,CYP2C9,HSD17B3,JAK3,CYP2A6,CYP2C19,NR3C1,PTPN2,PTPN6,SRD5A1,SRD5A2,TYK2,AR,CYP51A1,MDM2,SQLE,SREBF2},
 xticklabel style={rotate=90,anchor=east,font=\fontsize{19.5}{22}\selectfont,text=black,inner sep=0pt,xshift=-6pt},
 every axis plot/.append style={ybar,bar width=5pt,bar shift=0pt,draw=none},
]
\addplot[fill=b0] coordinates {(0,14)};
\addplot[fill=b1] coordinates {(1,12)};
\addplot[fill=b2] coordinates {(2,11)};
\addplot[fill=b3] coordinates {(3,10)};
\addplot[fill=b4] coordinates {(4,10)};
\addplot[fill=b5] coordinates {(5,10)};
\addplot[fill=b6] coordinates {(6,10)};
\addplot[fill=b7] coordinates {(7,10)};
\addplot[fill=b8] coordinates {(8,9)};
\addplot[fill=b9] coordinates {(9,9)};
\addplot[fill=b10] coordinates {(10,9)};
\addplot[fill=b11] coordinates {(11,9)};
\addplot[fill=b12] coordinates {(12,8)};
\addplot[fill=b13] coordinates {(13,8)};
\addplot[fill=b14] coordinates {(14,8)};
\addplot[fill=b15] coordinates {(15,7)};
\addplot[fill=b16] coordinates {(16,7)};
\addplot[fill=b17] coordinates {(17,7)};
\addplot[fill=b18] coordinates {(18,7)};
\addplot[fill=b19] coordinates {(19,7)};
\addplot[fill=b20] coordinates {(20,7)};
\addplot[fill=b21] coordinates {(21,7)};
\addplot[fill=b22] coordinates {(22,7)};
\addplot[fill=b23] coordinates {(23,6)};
\addplot[fill=b24] coordinates {(24,6)};
\addplot[fill=b25] coordinates {(25,6)};
\addplot[fill=b26] coordinates {(26,6)};
\addplot[fill=b27] coordinates {(27,6)};
\end{axis}
\end{tikzpicture}
\end{document}
